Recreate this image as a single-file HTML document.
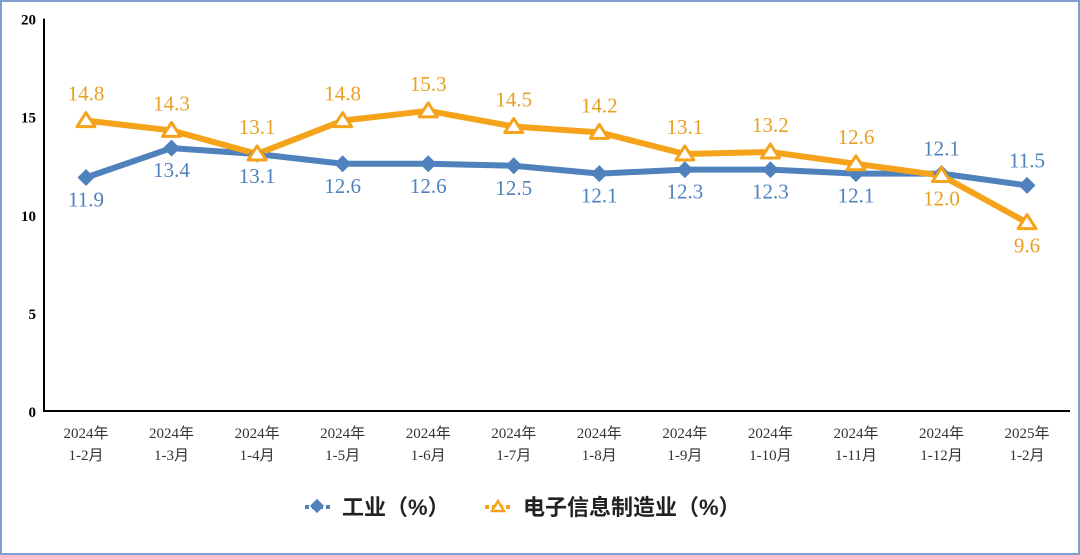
<!DOCTYPE html>
<html><head><meta charset="utf-8"><style>
body{margin:0;width:1080px;height:555px;overflow:hidden;background:#fff}
svg{display:block}
</style></head><body>
<svg id="chart" width="1080" height="555" xmlns="http://www.w3.org/2000/svg" font-family="'Liberation Serif','Noto Serif CJK SC',serif">
<rect x="1" y="1" width="1078" height="553" fill="#fff" stroke="#7f9fd3" stroke-width="2"/>
<g id="axes"></g><g id="series"></g>
<g font-family="'Liberation Sans','Noto Sans CJK SC',sans-serif" font-size="22" font-weight="bold" fill="#222">
 <g>
  <line x1="305" y1="507" x2="331" y2="507" stroke="#4f81bd" stroke-width="4" stroke-dasharray="4,3"/>
  <rect x="312" y="501" width="10" height="10" fill="#4f81bd" transform="rotate(45 317 506)"/>
  <text x="342" y="515">工业（%）</text>
 </g>
 <g>
  <line x1="485" y1="507" x2="511" y2="507" stroke="#f5a31a" stroke-width="4" stroke-dasharray="4,3"/>
  <path d="M498 501 L504 511 L492 511 Z" fill="#fff" stroke="#f5a31a" stroke-width="2.5"/>
  <text x="523" y="515">电子信息制造业（%）</text>
 </g>
</g>
</svg>
<script>
const years=["2024年","2024年","2024年","2024年","2024年","2024年","2024年","2024年","2024年","2024年","2024年","2025年"];
const months=["1-2月","1-3月","1-4月","1-5月","1-6月","1-7月","1-8月","1-9月","1-10月","1-11月","1-12月","1-2月"];
const industry=[11.9,13.4,13.1,12.6,12.6,12.5,12.1,12.3,12.3,12.1,12.1,11.5];
const electronics=[14.8,14.3,13.1,14.8,15.3,14.5,14.2,13.1,13.2,12.6,12.0,9.6];
const yTicks=[0,5,10,15,20];
const industryLabelAbove=[false,false,false,false,false,false,false,false,false,false,true,true];
const electronicsLabelAbove=[true,true,true,true,true,true,true,true,true,true,false,false];

const NS="http://www.w3.org/2000/svg";
const x=i=>86+i*85.55;
const y=v=>411-v*19.62;
function mk(tag,attrs,parent){const e=document.createElementNS(NS,tag);for(const k in attrs)e.setAttribute(k,attrs[k]);parent.appendChild(e);return e;}
const axes=document.getElementById('axes'),series=document.getElementById('series');

let a=mk('line',{x1:44,y1:y(20),x2:44,y2:y(0),stroke:'#000','stroke-width':2},axes);


a=mk('line',{x1:43,y1:y(0),x2:1070,y2:y(0),stroke:'#000','stroke-width':2},axes);


yTicks.forEach(t=>{const e=mk('text',{x:36,y:y(t)+6,'text-anchor':'end','font-size':15,'font-weight':'bold',fill:'#000'},axes);e.textContent=t;

});
years.forEach((yr,i)=>{
 const e=mk('text',{x:x(i),y:438,'text-anchor':'middle','font-size':15,fill:'#333','font-family':"'Liberation Serif','Noto Sans CJK SC',serif"},axes);
 
 
 const t1=mk('tspan',{x:x(i)},e);t1.textContent=yr;
 const t2=mk('tspan',{x:x(i),dy:22},e);t2.textContent=months[i];
});

function line(vals,color,name){
 const p=mk('polyline',{points:vals.map((v,i)=>x(i)+','+y(v)).join(' '),fill:'none',stroke:color,'stroke-width':6,'stroke-linejoin':'round'},series);
 
 
}
line(industry,'#4f81bd','industry-line');
line(electronics,'#f5a31a','electronics-line');
industry.forEach((v,i)=>{
 const r=mk('rect',{x:x(i)-6,y:y(v)-6,width:12,height:12,fill:'#4f81bd',transform:`rotate(45 ${x(i)} ${y(v)})`},series);
 
 
 const t=mk('text',{x:x(i),y:industryLabelAbove[i]?y(v)-18:y(v)+29,'text-anchor':'middle','font-size':21,fill:'#4f81bd'},series);t.textContent=v.toFixed(1);
 
 
});
electronics.forEach((v,i)=>{
 const cx=x(i),cy=y(v);
 const p=mk('path',{d:`M${cx} ${cy-8} L${cx+9} ${cy+6} L${cx-9} ${cy+6} Z`,fill:'#fff',stroke:'#f5a31a','stroke-width':3,'stroke-linejoin':'round'},series);
 
 
 const t=mk('text',{x:cx,y:electronicsLabelAbove[i]?cy-20:cy+30,'text-anchor':'middle','font-size':21,fill:'#e8a020'},series);t.textContent=v.toFixed(1);
 
 
});
</script>
</body></html>
